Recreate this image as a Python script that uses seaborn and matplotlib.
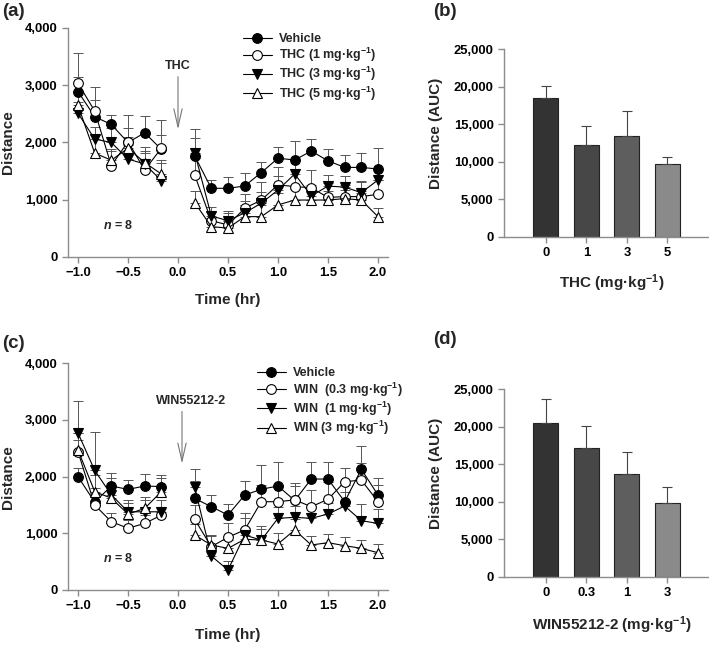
import numpy as np
import matplotlib
matplotlib.use("Agg")
import matplotlib.pyplot as plt
from matplotlib.ticker import FuncFormatter
import seaborn as sns

sns.set_style("ticks")
plt.rcParams['font.family'] = ['Liberation Sans', 'DejaVu Sans']
plt.rcParams['font.weight'] = 'bold'
plt.rcParams['axes.labelweight'] = 'bold'
plt.rcParams['mathtext.fontset'] = 'custom'
plt.rcParams['mathtext.rm'] = 'Liberation Sans:bold'
plt.rcParams['mathtext.it'] = 'Liberation Sans:bold:italic'
plt.rcParams['mathtext.bf'] = 'Liberation Sans:bold'

# time points (hr), injection at 0
pre_t = [-1.0, -0.833, -0.667, -0.5, -0.333, -0.167]
post_t = [0.167, 0.333, 0.5, 0.667, 0.833, 1.0, 1.167, 1.333, 1.5, 1.667, 1.833, 2.0]

# THC experiment: mean distance and upper SEM
thc_veh_pre = [2890, 2450, 2315, 2000, 2170, 1880]
thc_veh_post = [1764, 1200, 1200, 1240, 1475, 1725, 1695, 1850, 1680, 1565, 1565, 1537]
thc1_pre = [3034, 2550, 1595, 2015, 1520, 1900]
thc1_post = [1430, 635, 560, 850, 995, 1260, 1230, 1210, 1040, 1055, 1055, 1095]
thc3_pre = [2510, 2060, 2000, 1710, 1625, 1335]
thc3_post = [1820, 716, 635, 770, 940, 1170, 1450, 1065, 1240, 1220, 1125, 1345]
thc5_pre = [2650, 1815, 1690, 1900, 1650, 1450]
thc5_post = [950, 530, 505, 705, 705, 910, 995, 995, 995, 1020, 995, 705]

thc_veh_sem_pre = [250, 300, 165, 250, 290, 250]
thc_veh_sem_post = [465, 145, 200, 235, 190, 200, 335, 205, 200, 215, 255, 370]
thc1_sem_pre = [530, 425, 250, 465, 300, 490]
thc1_sem_post = [300, 150, 200, 250, 320, 315, 300, 310, 250, 200, 250, 250]
thc3_sem_pre = [200, 215, 250, 250, 300, 300]
thc3_sem_post = [250, 150, 160, 200, 200, 250, 250, 200, 200, 200, 200, 200]
thc5_sem_pre = [250, 315, 200, 200, 200, 250]
thc5_sem_post = [200, 150, 150, 200, 200, 200, 200, 150, 150, 150, 150, 150]

# WIN55212-2 experiment
win_veh_pre = [2000, 1550, 1835, 1775, 1835, 1825]
win_veh_post = [1615, 1470, 1323, 1676, 1777, 1835, 1580, 1958, 1958, 1558, 2130, 1676]
win03_pre = [2440, 1500, 1205, 1090, 1175, 1320]
win03_post = [1245, 765, 930, 1060, 1558, 1558, 1590, 1470, 1600, 1910, 1940, 1558]
win1_pre = [2770, 2110, 1680, 1380, 1380, 1380]
win1_post = [1810, 600, 353, 970, 880, 1265, 1282, 1265, 1340, 1482, 1223, 1175]
win3_pre = [2470, 1735, 1620, 1340, 1440, 1735]
win3_post = [970, 794, 735, 895, 882, 812, 1060, 794, 835, 782, 735, 658]

win_veh_sem_pre = [150, 250, 230, 170, 220, 200]
win_veh_sem_post = [300, 200, 200, 250, 430, 430, 300, 300, 300, 300, 410, 300]
win03_sem_pre = [200, 200, 150, 150, 150, 150]
win03_sem_post = [250, 200, 250, 300, 300, 300, 250, 300, 300, 250, 300, 300]
win1_sem_pre = [565, 680, 300, 200, 200, 200]
win1_sem_post = [320, 150, 150, 300, 250, 200, 200, 200, 200, 250, 300, 250]
win3_sem_pre = [300, 300, 200, 200, 200, 250]
win3_sem_post = [200, 150, 150, 200, 200, 200, 200, 150, 150, 150, 150, 150]

# AUC bar data
thc_doses = ['0', '1', '3', '5']
thc_auc = [18530, 12270, 13470, 9690]
thc_auc_sem = [1570, 2530, 3330, 890]
win_doses = ['0', '0.3', '1', '3']
win_auc = [20450, 17160, 13690, 9870]
win_auc_sem = [3250, 2890, 2900, 2050]

bar_colors = ['#333333', '#474747', '#5e5e5e', '#8a8a8a']
spine_col = '#8c8c8c'
unit = 'mg\u00b7kg$^{-1}$'

thc_series = [
    ('Vehicle', 'o', 'black', thc_veh_pre, thc_veh_post, thc_veh_sem_pre, thc_veh_sem_post),
    ('THC (1 ' + unit + ')', 'o', 'white', thc1_pre, thc1_post, thc1_sem_pre, thc1_sem_post),
    ('THC (3 ' + unit + ')', 'v', 'black', thc3_pre, thc3_post, thc3_sem_pre, thc3_sem_post),
    ('THC (5 ' + unit + ')', '^', 'white', thc5_pre, thc5_post, thc5_sem_pre, thc5_sem_post),
]
win_series = [
    ('Vehicle', 'o', 'black', win_veh_pre, win_veh_post, win_veh_sem_pre, win_veh_sem_post),
    ('WIN  (0.3 ' + unit + ')', 'o', 'white', win03_pre, win03_post, win03_sem_pre, win03_sem_post),
    ('WIN  (1 ' + unit + ')', 'v', 'black', win1_pre, win1_post, win1_sem_pre, win1_sem_post),
    ('WIN (3 ' + unit + ')', '^', 'white', win3_pre, win3_post, win3_sem_pre, win3_sem_post),
]


def style_axes(ax):
    sns.despine(ax=ax)
    for s in ['left', 'bottom']:
        ax.spines[s].set_color(spine_col)
        ax.spines[s].set_linewidth(1.0)
    ax.tick_params(axis='both', colors=spine_col, labelcolor='black',
                   labelsize=9.4, length=4, width=1.0, direction='out')
    for lab in ax.get_xticklabels() + ax.get_yticklabels():
        lab.set_fontweight('bold')


def time_panel(ax, series, drug, arrow_x, text_x, leg_anchor, xlab_y):
    for label, mk, face, pre, post, sem_pre, sem_post in series:
        for t, v, e, lab in [(pre_t, pre, sem_pre, label), (post_t, post, sem_post, None)]:
            ax.errorbar(t, v, yerr=[np.zeros(len(e)), e], fmt='none', ecolor='#555555',
                        elinewidth=0.7, capsize=3.5, capthick=0.7, zorder=2)
            kw = dict(label=lab) if lab else {}
            sns.lineplot(x=t, y=v, ax=ax, color='black', marker=mk, markersize=7,
                         markerfacecolor=face, markeredgecolor='black', markeredgewidth=0.8,
                         linewidth=0.8, errorbar=None, zorder=3, **kw)
    ax.set_xlim(-1.1, 2.1)
    ax.set_ylim(0, 4000)
    ax.set_yticks([0, 1000, 2000, 3000, 4000])
    ax.set_xticks([-1.0, -0.5, 0.0, 0.5, 1.0, 1.5, 2.0])
    ax.yaxis.set_major_formatter(FuncFormatter(lambda v, p: f"{v:,.0f}"))
    ax.xaxis.set_major_formatter(FuncFormatter(lambda v, p: f"{v:.1f}".replace('-', '\u2212')))
    ax.set_xlabel('Time (hr)', fontsize=11, fontweight='bold')
    ax.set_ylabel('Distance', fontsize=11, fontweight='bold')
    ax.yaxis.set_label_coords(-0.166, 0.5)
    ax.xaxis.set_label_coords(0.5, xlab_y)
    style_axes(ax)
    ax.legend(loc='upper left', bbox_to_anchor=leg_anchor, frameon=False,
              borderpad=0, borderaxespad=0, labelspacing=0.08, handlelength=2.3,
              handletextpad=0.6, prop={'weight': 'bold', 'size': 9})
    ax.annotate('', xy=(arrow_x, 2230), xytext=(arrow_x, 3150),
                arrowprops=dict(arrowstyle='->,head_length=1.3,head_width=0.3',
                                color='#777777', lw=0.8, shrinkA=0, shrinkB=0))
    ax.text(text_x, 3340, drug, ha='center', va='center', fontsize=9, fontweight='bold')
    ax.text(-0.6, 555, '$\\mathit{n}$ = 8', ha='center', va='center', fontsize=9)


def bar_panel(ax, doses, auc, sem, xlabel, label_y):
    sns.barplot(x=doses, y=auc, hue=doses, palette=bar_colors, legend=False, ax=ax,
                width=0.62, errorbar=None, edgecolor='#222222', linewidth=0.8)
    ax.errorbar(range(len(doses)), auc, yerr=[np.zeros(len(sem)), sem], fmt='none',
                ecolor='#444444', elinewidth=0.8, capsize=3.5, capthick=0.8, zorder=3)
    ax.set_xlim(-1.03, 4.0)
    ax.set_ylim(0, 25000)
    ax.set_yticks([0, 5000, 10000, 15000, 20000, 25000])
    ax.yaxis.set_major_formatter(FuncFormatter(lambda v, p: f"{v:,.0f}"))
    ax.set_xlabel(xlabel, fontsize=11, fontweight='bold')
    ax.set_ylabel('Distance (AUC)', fontsize=11, fontweight='bold')
    ax.yaxis.set_label_coords(-0.299, 0.55)
    ax.xaxis.set_label_coords(0.53, label_y)
    style_axes(ax)


fig = plt.figure(figsize=(7.09, 6.46), dpi=100)
W, H = 709, 646

ax_a = fig.add_axes([68 / W, 1 - 257 / H, 320 / W, 229 / H])
ax_b = fig.add_axes([504 / W, 1 - 236.7 / H, 204 / W, 187.7 / H])
ax_c = fig.add_axes([68 / W, 1 - 590 / H, 320 / W, 226.7 / H])
ax_d = fig.add_axes([504 / W, 1 - 576.7 / H, 204 / W, 187.7 / H])

time_panel(ax_a, thc_series, 'THC', 0.0, 0.0, (0.547, 0.978), -0.157)
time_panel(ax_c, win_series, 'WIN55212-2', 0.04, 0.13, (0.59, 0.982), -0.168)
bar_panel(ax_b, thc_doses, thc_auc, thc_auc_sem, 'THC (' + unit + ')', -0.188)
bar_panel(ax_d, win_doses, win_auc, win_auc_sem, 'WIN55212-2 (' + unit + ')', -0.199)

for txt, x, y in [('(a)', 2, 11), ('(b)', 433, 11), ('(c)', 2, 343), ('(d)', 433, 340)]:
    fig.text(x / W, 1 - y / H, txt, ha='left', va='center', fontsize=13.5, fontweight='bold')

fig.savefig('out.png', dpi=100)
